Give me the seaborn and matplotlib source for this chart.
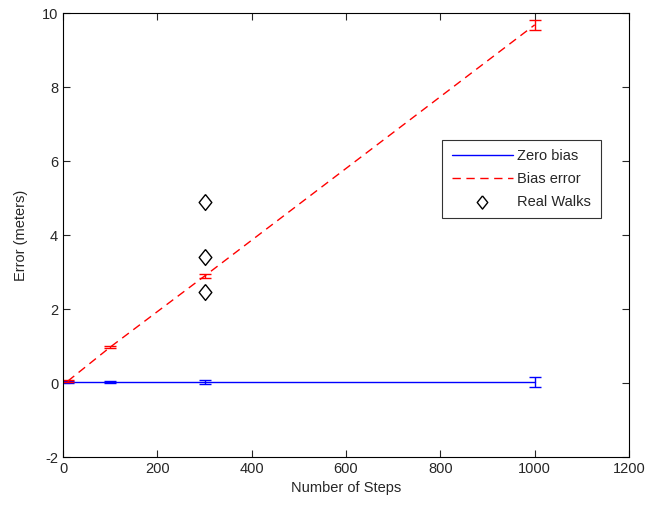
import matplotlib
matplotlib.use("Agg")
import matplotlib.pyplot as plt
import seaborn as sns
import pandas as pd

steps = [10, 100, 300, 1000]
zero_bias = [0.02, 0.02, 0.02, 0.02]
zero_bias_err = [0.03, 0.03, 0.05, 0.13]
bias_error = [0.05, 0.97, 2.89, 9.68]
bias_error_err = [0.02, 0.03, 0.06, 0.13]
walk_steps = [300, 300, 300]
walk_errors = [4.9, 3.4, 2.47]

sns.set_style("white")
plt.rcParams['font.family'] = ['Liberation Sans', 'DejaVu Sans']
plt.rcParams['axes.unicode_minus'] = False

fig = plt.figure(figsize=(6.6, 5.07), dpi=100)
ax = fig.add_axes([0.0955, 0.0986, 0.8576, 0.8757])

df_zero = pd.DataFrame({"steps": steps, "err": zero_bias})
df_bias = pd.DataFrame({"steps": steps, "err": bias_error})
df_walk = pd.DataFrame({"steps": walk_steps, "err": walk_errors})

diamond = [(0, 1), (0.8, 0), (0, -1), (-0.8, 0), (0, 1)]

sns.lineplot(data=df_zero, x="steps", y="err", ax=ax, color="#0000ff", lw=1.0,
             label="Zero bias")
sns.lineplot(data=df_bias, x="steps", y="err", ax=ax, color="#ff0000", lw=1.0,
             dashes=False, label="Bias error")
ax.lines[-1].set_dashes([6, 4])
sns.scatterplot(data=df_walk, x="steps", y="err", ax=ax, marker=diamond, s=130,
                facecolor="white", edgecolor="black", linewidth=1.0,
                label="Real Walks")

ax.errorbar(steps, zero_bias, yerr=zero_bias_err, fmt="none", ecolor="#0000ff",
            elinewidth=1.0, capsize=4, capthick=1.0)
ax.errorbar(steps, bias_error, yerr=bias_error_err, fmt="none", ecolor="#ff0000",
            elinewidth=1.0, capsize=4, capthick=1.0)

ax.set_xlim(0, 1200)
ax.set_ylim(-2, 10)
ax.set_xticks(range(0, 1201, 200))
ax.set_yticks(range(-2, 11, 2))
ax.set_xlabel("Number of Steps", fontsize=10.5)
ax.set_ylabel("Error (meters)", fontsize=10.5, labelpad=10)
ax.tick_params(axis="both", direction="in", length=5, width=0.8, labelsize=10.5,
               top=True, right=True, bottom=True, left=True,
               labeltop=False, labelright=False)
for sp in ax.spines.values():
    sp.set_color("black")
    sp.set_linewidth(0.8)

leg = ax.legend(loc="upper left", bbox_to_anchor=(0.67, 0.714), frameon=True,
                fancybox=False, edgecolor="black", fontsize=10.5, handlelength=4.2,
                borderpad=0.65, labelspacing=0.6, handletextpad=0.3,
                borderaxespad=0)
leg.get_frame().set_linewidth(0.8)
for h in leg.legend_handles:
    if hasattr(h, "set_sizes"):
        h.set_sizes([90])

fig.savefig("out.png", dpi=100)
